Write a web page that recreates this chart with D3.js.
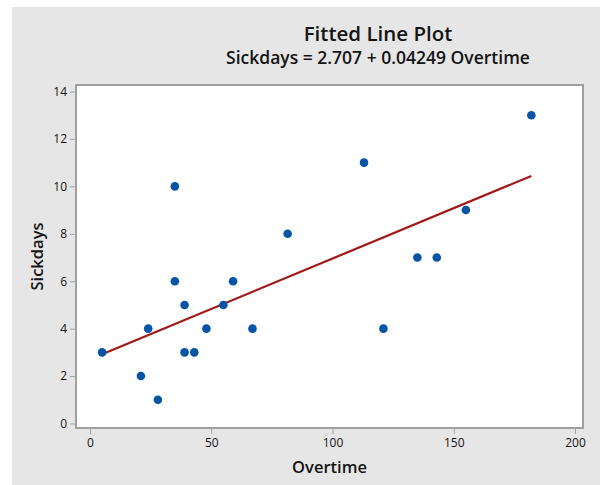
<!DOCTYPE html>
<html>
<head>
<meta charset="utf-8">
<script src="https://cdn.jsdelivr.net/npm/d3@7"></script>
<style>
  body { margin: 0; background: #fff; }
  text { font-family: "Open Sans", "Noto Sans", sans-serif; fill: #141414; }
</style>
</head>
<body>
<svg id="chart" width="600" height="485"></svg>
<script>
// data
const overtime = [5, 21, 24, 28, 35, 35, 39, 39, 43, 48, 55, 59, 67, 81.5, 113, 121, 135, 143, 155, 182];
const sickdays = [3, 2, 4, 1, 10, 6, 5, 3, 3, 4, 5, 6, 4, 8, 11, 4, 7, 7, 9, 13];
const xTicks = [0, 50, 100, 150, 200];
const yTicks = [0, 2, 4, 6, 8, 10, 12, 14];
const intercept = 2.707;
const slope = 0.04249;

const svg = d3.select("#chart");

// gray panel
svg.append("rect")
  .attr("x", 12).attr("y", 7)
  .attr("width", 588).attr("height", 478)
  .attr("fill", "#e6e6e6");

const frame = { left: 76, top: 85, right: 583, bottom: 428 };

let x = d3.scaleLinear().domain([0, 200]).range([90, 575]);
let y = d3.scaleLinear().domain([0, 14]).range([423.5, 91.5]);

svg.append("rect")
  .attr("x", frame.left).attr("y", frame.top)
  .attr("width", frame.right - frame.left)
  .attr("height", frame.bottom - frame.top)
  .attr("fill", "#fff")
  .attr("stroke", "#a0a0a0")
  .attr("stroke-width", 2);

// axes
let xAxis = svg.append("g")
  .attr("transform", `translate(0, ${frame.bottom + 1})`)
  .call(d3.axisBottom(x).tickValues(xTicks).tickSize(5).tickPadding(4));
let yAxis = svg.append("g")
  .attr("transform", `translate(${frame.left - 1}, 0)`)
  .call(d3.axisLeft(y).tickValues(yTicks).tickSize(5).tickPadding(3));

[xAxis, yAxis].forEach(a => {
  a.select(".domain").remove();
  a.selectAll(".tick line").attr("stroke", "#a0a0a0");
  a.selectAll(".tick text")
    .style("font-family", '"Open Sans", sans-serif')
    .style("font-size", "12px")
    .attr("fill", "#141414");
});

// fitted line over the data range
let xMin = d3.min(overtime), xMax = d3.max(overtime);
svg.append("line")
  .attr("x1", x(xMin)).attr("y1", y(intercept + slope * xMin))
  .attr("x2", x(xMax)).attr("y2", y(intercept + slope * xMax))
  .attr("stroke", "#a01818")
  .attr("stroke-width", 2.2);

// points
svg.selectAll("circle.pt")
  .data(overtime.map((d, i) => ({ x: d, y: sickdays[i] })))
  .join("circle")
  .attr("class", "pt")
  .attr("cx", d => x(d.x))
  .attr("cy", d => y(d.y))
  .attr("r", 4.3)
  .attr("fill", "#0554a6");

// titles
svg.append("text")
  .attr("x", 378).attr("y", 41)
  .attr("text-anchor", "middle")
  .style("font-size", "20.5px")
  .style("font-weight", 600)
  .text("Fitted Line Plot");

svg.append("text")
  .attr("x", 378).attr("y", 64)
  .attr("text-anchor", "middle")
  .style("font-size", "17.5px")
  .style("font-weight", 600)
  .text(`Sickdays = ${intercept} + ${slope} Overtime`);

svg.append("text")
  .attr("x", (frame.left + frame.right) / 2).attr("y", 473)
  .attr("text-anchor", "middle")
  .style("font-size", "16.5px")
  .style("font-weight", 600)
  .text("Overtime");

svg.append("text")
  .attr("transform", `translate(43, ${(frame.top + frame.bottom) / 2}) rotate(-90)`)
  .attr("text-anchor", "middle")
  .style("font-size", "16.5px")
  .style("font-weight", 600)
  .text("Sickdays");
</script>
</body>
</html>
